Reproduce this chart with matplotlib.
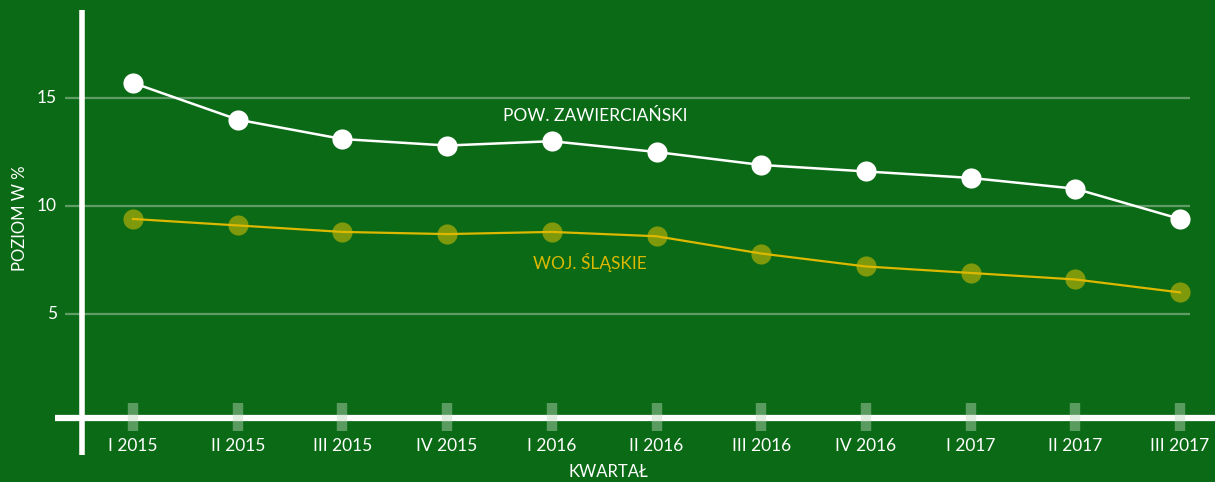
import matplotlib.pyplot as plt
import numpy as np

# data
quarters = ['I 2015', 'II 2015', 'III 2015', 'IV 2015', 'I 2016', 'II 2016',
            'III 2016', 'IV 2016', 'I 2017', 'II 2017', 'III 2017']
zawiercianski = [15.7, 14.0, 13.1, 12.8, 13.0, 12.5, 11.9, 11.6, 11.3, 10.8, 9.4]
slaskie = [9.4, 9.1, 8.8, 8.7, 8.8, 8.6, 7.8, 7.2, 6.9, 6.6, 6.0]
yticks = [5, 10, 15]

BG = '#0b6a15'
YELLOW = '#dcb800'
OLIVE = '#7e9a0c'

plt.rcParams['font.family'] = ['Lato', 'DejaVu Sans']

W, H = 1215, 482
fig = plt.figure(figsize=(W / 100, H / 100), dpi=100, facecolor=BG)

# pixel helpers (layout only)
px_per_idx = 104.7
x0_px = 133.0
px_per_val = 21.6
y0_px = 422.0
def ix(px):
    return (px - x0_px) / px_per_idx
def vy(py):
    return (y0_px - py) / px_per_val

ax = fig.add_axes([0, 0, 1, 1])
ax.set_facecolor(BG)
ax.set_xlim(ix(0), ix(W))
ax.set_ylim(vy(H), vy(0))
ax.axis('off')

x = np.arange(len(quarters))

# gridlines
ax.hlines(yticks, ix(65), ix(1190), color='#ffffff', alpha=0.35, lw=1.6, zorder=1)
for t in yticks:
    ax.text(ix(57), t, str(t), color='white', fontsize=12.5, ha='right', va='center')

# axes lines
ax.vlines(ix(82), vy(455), vy(10), color='white', lw=4, zorder=3)
ax.hlines(vy(418), ix(55), ix(W), color='white', lw=4.5, zorder=3)

# tick boxes
ax.vlines(x, vy(431), vy(403), color='#bcd9bc', alpha=0.45, lw=7.5, zorder=4)
for xi, q in zip(x, quarters):
    ax.text(xi, vy(446), q, color='white', fontsize=12.5, ha='center', va='center')

# series
ax.plot(x, slaskie, 'o', ms=14.5, color=OLIVE, mec='none', zorder=5)
ax.plot(x, slaskie, '-', lw=1.6, color=YELLOW, zorder=6)
ax.plot(x, zawiercianski, '-o', lw=1.8, ms=14.5, color='white', mec='none', zorder=7)

ax.text(ix(595), vy(116), 'POW. ZAWIERCIAŃSKI', color='white', fontsize=12.5,
        ha='center', va='center')
ax.text(ix(590), vy(262), 'WOJ. ŚLĄSKIE', color=YELLOW, fontsize=12.5,
        ha='center', va='center')

ax.text(ix(20), vy(218), 'POZIOM W %', color='white', fontsize=12,
        rotation=90, ha='center', va='center')
ax.text(ix(608), vy(472), 'KWARTAŁ', color='white', fontsize=12,
        ha='center', va='center')

fig.savefig('out.png', dpi=100, facecolor=BG)
